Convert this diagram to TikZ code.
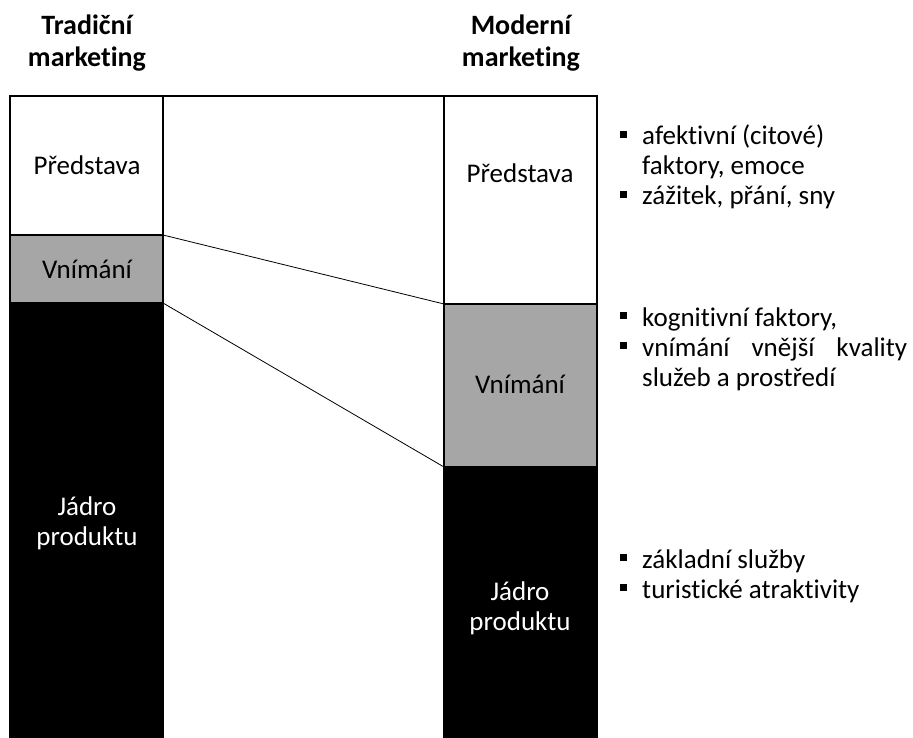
\documentclass[tikz,border=0pt]{standalone}
\usepackage{fontspec}
\setmainfont{Carlito}[Ligatures=NoCommon]
\usetikzlibrary{positioning}
\definecolor{midgray}{HTML}{A6A6A6}
\newcommand{\sqbul}{\makebox[22pt][l]{\rule[7pt]{7pt}{7pt}}}

\begin{document}
\begin{tikzpicture}[
  x=1pt, y=-1pt,
  every node/.style={font=\fontsize{27}{30}\selectfont, inner sep=0pt},
  head/.style={font=\fontsize{28}{32}\selectfont\bfseries, align=center, anchor=base},
  layer/.style={draw=black, line width=2pt, outer sep=0pt, minimum width=153pt},
  lbl/.style={align=center, anchor=base},
  notes/.style={align=left, anchor=base west},
  link/.style={line width=0.8pt}
]
\useasboundingbox (0,0) rectangle (913,738);

% headings (base = last line)
\node[head] (trad) at (87,67) {Tradiční\\marketing};
\node[head] (mod) at (521,67) {Moderní\\marketing};

% traditional column
\node[layer, anchor=north west, minimum height=139pt] (lpred) at (10,96) {};
\node[layer, fill=midgray, minimum height=68pt, below=0pt of lpred] (lvn) {};
\node[layer, fill=black, minimum height=435pt, below=0pt of lvn] (ljad) {};

% modern column
\node[layer, anchor=north west, minimum height=208pt] (rpred) at (444,96) {};
\node[layer, fill=midgray, minimum height=163pt, below=0pt of rpred] (rvn) {};
\node[layer, fill=black, minimum height=271pt, below=0pt of rvn] (rjad) {};

% labels
\node[lbl] (lpredtxt) at (87,175) {Představa};
\node[lbl] (lvntxt) at (87,278) {Vnímání};
\node[lbl, text=white] (ljadtxt) at (87,545) {Jádro\\produktu};
\node[lbl] (rpredtxt) at (520,183) {Představa};
\node[lbl] (rvntxt) at (520,393) {Vnímání};
\node[lbl, text=white] (rjadtxt) at (520,630) {Jádro\\produktu};

% notes on the right
\node[notes] (affect) at (620,205) {\sqbul afektivní (citové)\\\hspace*{22pt}faktory, emoce\\\sqbul zážitek, přání, sny};
\node[notes] (cognit) at (620,386) {\sqbul kognitivní faktory,\\\sqbul\makebox[265pt][s]{vnímání vnější kvality}\\\hspace*{22pt}služeb a prostředí};
\node[notes] (core) at (620,598) {\sqbul základní služby\\\sqbul turistické atraktivity};

\draw[line width=2pt] (lpred.north west) -- (rpred.north east);
\draw[link] (lvn.north east) -- (rvn.north west);
\draw[link] (lvn.south east) -- (rvn.south west);

\end{tikzpicture}
\end{document}
